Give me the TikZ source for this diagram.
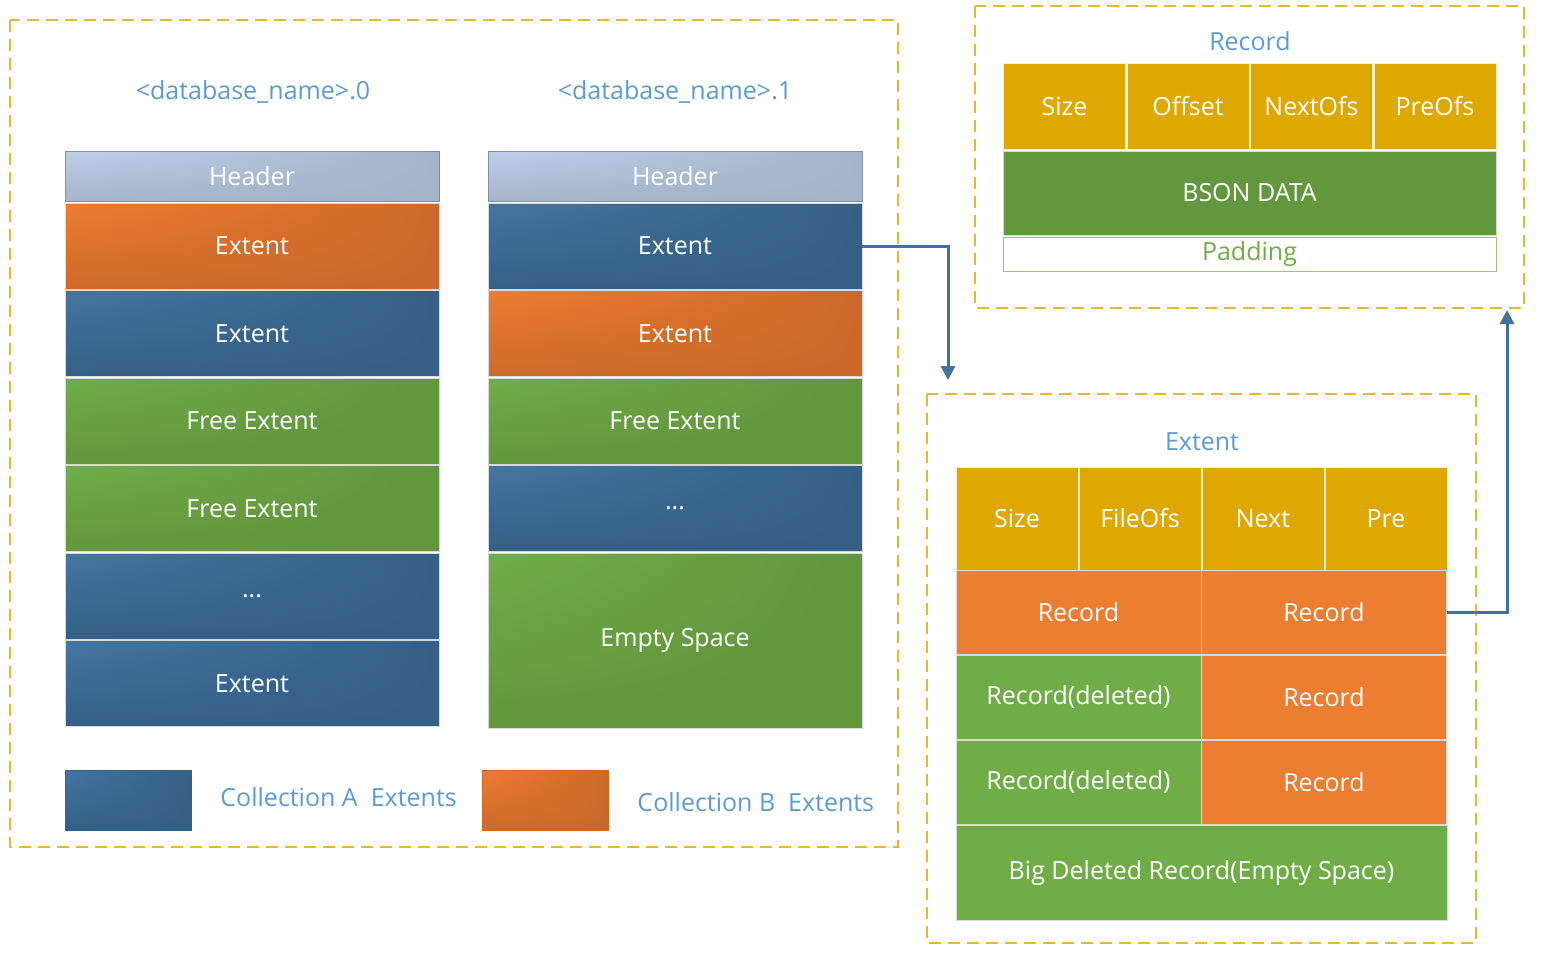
\documentclass[tikz,border=0pt]{standalone}
\usepackage{fontspec}
\setmainfont{Open Sans}
\usepackage{tikz}
\usetikzlibrary{positioning, arrows.meta, calc, shadings}
\definecolor{FrameGold}{RGB}{233, 183, 46}
\definecolor{TitleBlue}{RGB}{91, 155, 213}
\definecolor{ArrowBlue}{RGB}{65, 113, 156}
\definecolor{BlueLight}{RGB}{68, 117, 161}
\definecolor{BlueDark}{RGB}{52, 96, 135}
\definecolor{OrangeLight}{RGB}{237, 125, 49}
\definecolor{OrangeDark}{RGB}{204, 105, 42}
\definecolor{GreenLight}{RGB}{112, 173, 71}
\definecolor{GreenDark}{RGB}{98, 151, 61}
\definecolor{HeadLight}{RGB}{190, 208, 233}
\definecolor{HeadDark}{RGB}{164, 180, 202}
\definecolor{FieldGold}{RGB}{223, 168, 0}
\tikzset{
  frame/.style={draw=FrameGold, line width=1pt, dash pattern=on 6pt off 3.5pt},
  title/.style={text=TitleBlue, font=\fontsize{12.5}{14}\selectfont},
  cell/.style={text=white, font=\fontsize{12.5}{14}\selectfont, inner sep=0pt, draw=white!70!gray, line width=0.4pt},
  bluecell/.style={cell, upper left=BlueLight, upper right=BlueDark, lower left=BlueDark, lower right=BlueDark},
  orangecell/.style={cell, upper left=OrangeLight, upper right=OrangeDark, lower left=OrangeDark, lower right=OrangeDark},
  greencell/.style={cell, upper left=GreenLight, upper right=GreenDark, lower left=GreenDark, lower right=GreenDark},
  headcell/.style={cell, draw=HeadDark!80!black, upper left=HeadLight, upper right=HeadDark, lower left=HeadDark, lower right=HeadDark},
  fieldcell/.style={cell, fill=FieldGold, draw=white!80!FieldGold},
  flatorange/.style={cell, fill=OrangeLight},
  flatgreen/.style={cell, fill=GreenLight},
  colrow/.style={minimum width=187pt, minimum height=43pt},
  link/.style={draw=ArrowBlue, line width=1.5pt, -{Triangle[length=7pt,width=7pt]}}
}
\begin{document}
\begin{tikzpicture}[x=0.5pt, y=-0.5pt]
    \useasboundingbox (0,0) rectangle (1556,971);
    % frames
    \draw[frame] (10,20) rectangle (898,847);
    \draw[frame] (975,6) rectangle (1524,308);
    \draw[frame] (927,394) rectangle (1476,943);

    % data file 0
    \node[title] (name0) at (253,92) {<database\_name>.0};
    \node[headcell, minimum width=187pt, minimum height=25pt] (head0) at (252,176) {Header};
    \node[orangecell, colrow] (ext01) at (252,246) {Extent};
    \node[bluecell, colrow] (ext02) at (252,333.5) {Extent};
    \node[greencell, colrow] (ext03) at (252,421) {Free Extent};
    \node[greencell, colrow] (ext04) at (252,508.5) {Free Extent};
    \node[bluecell, colrow] (ext05) at (252,596) {...};
    \node[bluecell, colrow] (ext06) at (252,683.5) {Extent};

    % data file 1
    \node[title] (name1) at (675,92) {<database\_name>.1};
    \node[headcell, minimum width=187pt, minimum height=25pt] (head1) at (675,176) {Header};
    \node[bluecell, colrow] (ext11) at (675,246) {Extent};
    \node[orangecell, colrow] (ext12) at (675,333.5) {Extent};
    \node[greencell, colrow] (ext13) at (675,421) {Free Extent};
    \node[bluecell, colrow] (ext14) at (675,508.5) {...};
    \node[greencell, minimum width=187pt, minimum height=87.5pt] (empty1) at (675,640.5) {Empty Space};

    % legend
    \node[bluecell, draw=BlueDark, minimum width=63pt, minimum height=30pt] (keyA) at (128,800) {};
    \node[title, right=11pt of keyA, yshift=1.5pt] (keyAtext) {Collection A~ Extents};
    \node[orangecell, draw=OrangeDark, minimum width=63pt, minimum height=30pt] (keyB) at (545,800) {};
    \node[title, right=11pt of keyB, yshift=-1pt] (keyBtext) {Collection B~ Extents};

    % record layout
    \node[title] (rectitle) at (1250,41) {Record};
    \node[fieldcell, minimum width=61pt, minimum height=43pt] (rsize) at (1064.5,106) {Size};
    \node[fieldcell, minimum width=61pt, minimum height=43pt] (roffset) at (1188,106) {Offset};
    \node[fieldcell, minimum width=61pt, minimum height=43pt] (rnext) at (1311.5,106) {NextOfs};
    \node[fieldcell, minimum width=61pt, minimum height=43pt] (rpre) at (1435,106) {PreOfs};
    \node[cell, fill=GreenDark, minimum width=246.5pt, minimum height=42pt] (bson) at (1249.5,193) {BSON DATA};
    \node[cell, draw=GreenLight!70, text=GreenLight, fill=white, minimum width=246.5pt, minimum height=17pt] (padding) at (1249.5,254) {Padding};

    % extent layout
    \node[title] (exttitle) at (1202,442) {Extent};
    \node[fieldcell, minimum width=61pt, minimum height=51.5pt] (esize) at (1017,518.5) {Size};
    \node[fieldcell, minimum width=61pt, minimum height=51.5pt] (efile) at (1140,518.5) {FileOfs};
    \node[fieldcell, minimum width=61pt, minimum height=51.5pt] (enext) at (1263,518.5) {Next};
    \node[fieldcell, minimum width=61pt, minimum height=51.5pt] (epre) at (1386,518.5) {Pre};
    \node[flatorange, minimum width=122.5pt, minimum height=42pt] (rec11) at (1078.5,612.5) {Record};
    \node[flatorange, minimum width=122.5pt, minimum height=42pt] (rec12) at (1324,612.5) {Record};
    \node[flatgreen, minimum width=122.5pt, minimum height=42pt] (rec21) at (1078.5,697) {Record(deleted)};
    \node[flatorange, minimum width=122.5pt, minimum height=42pt] (rec22) at (1324,697) {Record};
    \node[flatgreen, minimum width=122.5pt, minimum height=42pt] (rec31) at (1078.5,782) {Record(deleted)};
    \node[flatorange, minimum width=122.5pt, minimum height=42pt] (rec32) at (1324,782) {Record};
    \node[flatgreen, minimum width=245.5pt, minimum height=47.5pt] (bigdel) at (1201.5,872.5) {Big Deleted Record(Empty Space)};

    % links
    \coordinate (extin) at (948,380);
    \coordinate (recin) at (1507,310);
    \draw[link] (ext11.east) -| (extin);
    \draw[link] (rec12.east) -| (recin);
\end{tikzpicture}
\end{document}
